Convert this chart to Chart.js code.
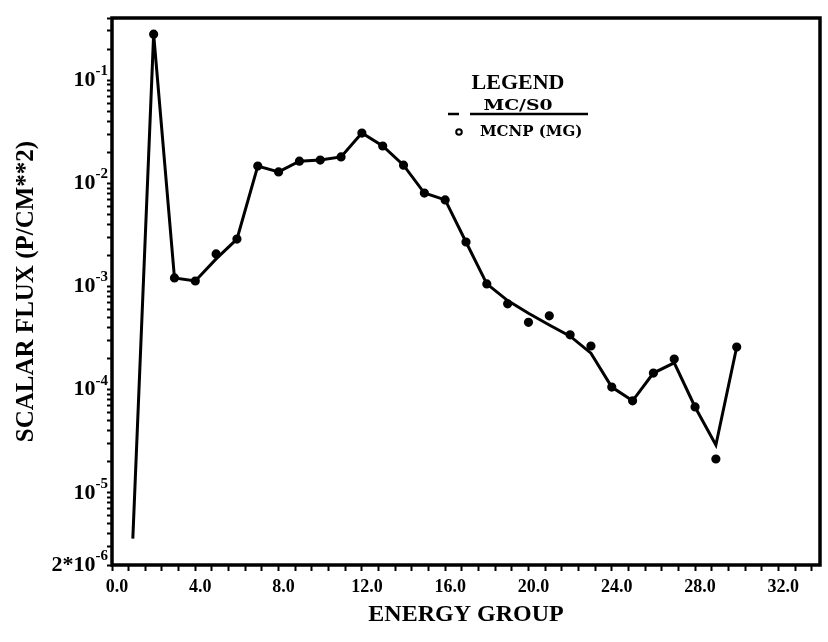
<!DOCTYPE html>
<html lang="en">
<head>
  <meta charset="UTF-8">
  <title>Scalar Flux vs Energy Group</title>
  <script src="https://cdn.jsdelivr.net/npm/chart.js"></script>
  <style>
    * { margin: 0; padding: 0; box-sizing: border-box; }
    body { background: #fff; width: 828px; height: 642px; overflow: hidden; }
    .chart-box { position: relative; width: 828px; height: 642px; }
  </style>
</head>
<body>
  <div class="chart-box"><canvas id="fluxChart"></canvas></div>

  <script>
    // Energy groups and scalar flux values
    const groups = [1, 2, 3, 4, 5, 6, 7, 8, 9, 10, 11, 12, 13, 14, 15,
                    16, 17, 18, 19, 20, 21, 22, 23, 24, 25, 26, 27, 28, 29, 30];
    const mcS0 = [3.6e-6, 0.279, 1.21e-3, 1.13e-3, 1.85e-3, 2.88e-3, 0.0147, 0.0129, 0.0164, 0.0168,
                  0.0180, 0.0307, 0.0230, 0.0150, 8.05e-3, 6.9e-3, 2.7e-3, 1.06e-3, 7.3e-4, 5.5e-4,
                  4.24e-4, 3.3e-4, 2.26e-4, 1.06e-4, 7.8e-5, 1.45e-4, 1.82e-4, 6.8e-5, 2.91e-5, 2.59e-4];
    const mcnpMG = [null, 0.279, 1.21e-3, 1.13e-3, 2.07e-3, 2.88e-3, 0.0147, 0.0129, 0.0164, 0.0168,
                    0.0180, 0.0307, 0.0230, 0.0150, 8.05e-3, 6.9e-3, 2.7e-3, 1.06e-3, 6.8e-4, 4.5e-4,
                    5.2e-4, 3.4e-4, 2.65e-4, 1.06e-4, 7.8e-5, 1.45e-4, 1.98e-4, 6.8e-5, 2.13e-5, 2.59e-4];

    // Axis ticks
    const xMajorTicks = [0, 4, 8, 12, 16, 20, 24, 28, 32];
    const xTickLabels = ['0.0', '4.0', '8.0', '12.0', '16.0', '20.0', '24.0', '28.0', '32.0'];
    const yMajorTicks = [2e-6, 1e-5, 1e-4, 1e-3, 1e-2, 1e-1];
    const yTickLabels = ['2*10^-6', '10^-5', '10^-4', '10^-3', '10^-2', '10^-1'];

    const serif = '"Liberation Serif", "DejaVu Serif", serif';
    const wideSerif = '"DejaVu Serif", "Liberation Serif", serif';

    function near(a, b) { return Math.abs(a - b) <= Math.abs(b) * 1e-6 + 1e-9; }

    // Box around the plot, y labels with raised exponents, hand-lettered legend
    const framePlugin = {
      id: 'frame',
      afterDraw(chart) {
        const { ctx, chartArea: a } = chart;
        const ys = chart.scales.y;
        ctx.save();
        ctx.strokeStyle = '#000';
        ctx.fillStyle = '#000';
        ctx.lineWidth = 3.5;
        ctx.strokeRect(a.left, a.top, a.right - a.left, a.bottom - a.top);

        // y tick labels: base + superscript exponent
        ctx.textAlign = 'right';
        ctx.textBaseline = 'middle';
        yMajorTicks.forEach((v, i) => {
          const py = ys.getPixelForValue(v);
          const [base, exp] = yTickLabels[i].split('^');
          ctx.font = 'bold 15px ' + serif;
          const ew = ctx.measureText(exp).width;
          ctx.fillText(exp, a.left - 4, py - 9);
          ctx.font = 'bold 22px ' + serif;
          ctx.fillText(base, a.left - 4 - ew, py);
        });

        // Legend
        ctx.textAlign = 'center';
        ctx.font = 'bold 22px ' + serif;
        ctx.fillText('LEGEND', 518, 83);
        ctx.save();
        ctx.translate(518, 106);
        ctx.scale(1.25, 1);
        ctx.font = 'bold 15px ' + wideSerif;
        ctx.fillText('MC/S0', 0, 0);
        ctx.restore();
        ctx.textAlign = 'left';
        ctx.font = 'bold 15px ' + wideSerif;
        ctx.fillText('MCNP (MG)', 480, 132);
        ctx.lineWidth = 2.5;
        ctx.beginPath();
        ctx.moveTo(470, 114); ctx.lineTo(588, 114);
        ctx.moveTo(448, 114); ctx.lineTo(459, 114);
        ctx.stroke();
        ctx.lineWidth = 2;
        ctx.beginPath();
        ctx.arc(459, 132, 2.8, 0, Math.PI * 2);
        ctx.stroke();
        ctx.restore();
      }
    };

    const ctx = document.getElementById('fluxChart').getContext('2d');
    const fluxChart = new Chart(ctx, {
      type: 'line',
      data: {
        datasets: [
          {
            label: 'MC/S0',
            data: groups.map((g, i) => ({ x: g, y: mcS0[i] })),
            borderColor: '#000',
            borderWidth: 3,
            pointRadius: 0,
            tension: 0,
            fill: false
          },
          {
            label: 'MCNP (MG)',
            data: groups.map((g, i) => ({ x: g, y: mcnpMG[i] })),
            showLine: false,
            pointRadius: 3.6,
            pointBorderWidth: 2,
            pointBorderColor: '#000',
            pointBackgroundColor: '#000'
          }
        ]
      },
      options: {
        responsive: true,
        maintainAspectRatio: false,
        animation: false,
        layout: { padding: { top: 18, right: 8, left: 0, bottom: 0 } },
        plugins: { legend: { display: false }, tooltip: { enabled: false } },
        scales: {
          x: {
            type: 'linear',
            min: 0,
            max: 34,
            afterFit: (s) => { s.height = 77; },
            afterBuildTicks: (s) => {
              const t = [];
              for (let i = 0; i <= 42; i++) t.push({ value: Math.round(i * 8) / 10 });
              s.ticks = t;
            },
            ticks: {
              autoSkip: false,
              maxRotation: 0,
              padding: 6,
              labelOffset: 5,
              color: '#000',
              font: { family: serif, size: 18, weight: 'bold' },
              callback: (v) => {
                const k = xMajorTicks.findIndex(m => near(v, m));
                return k >= 0 ? xTickLabels[k] : '';
              }
            },
            grid: { drawOnChartArea: false, drawTicks: true, tickLength: 6, tickWidth: 2, tickColor: '#000' },
            border: { display: false },
            title: {
              display: true,
              text: 'ENERGY GROUP',
              color: '#000',
              font: { family: serif, size: 24, weight: 'bold' },
              padding: { top: 0, bottom: 13 }
            }
          },
          y: {
            type: 'logarithmic',
            min: 2e-6,
            max: 0.4,
            afterFit: (s) => { s.width = 112; },
            afterBuildTicks: (s) => {
              const t = [];
              for (let d = -6; d <= -1; d++) {
                for (let m = 1; m <= 9; m++) {
                  const v = m * Math.pow(10, d);
                  if (v >= 2e-6 * 0.999 && v <= 0.4 * 1.001) t.push({ value: v });
                }
              }
              s.ticks = t;
            },
            ticks: { display: false, autoSkip: false },
            grid: { drawOnChartArea: false, drawTicks: true, tickLength: 5, tickWidth: 2, tickColor: '#000' },
            border: { display: false },
            title: {
              display: true,
              text: 'SCALAR FLUX (P/CM**2)',
              color: '#000',
              font: { family: serif, size: 25, weight: 'bold' },
              padding: { top: 12, bottom: 0 }
            }
          }
        }
      },
      plugins: [framePlugin]
    });
  </script>
</body>
</html>
